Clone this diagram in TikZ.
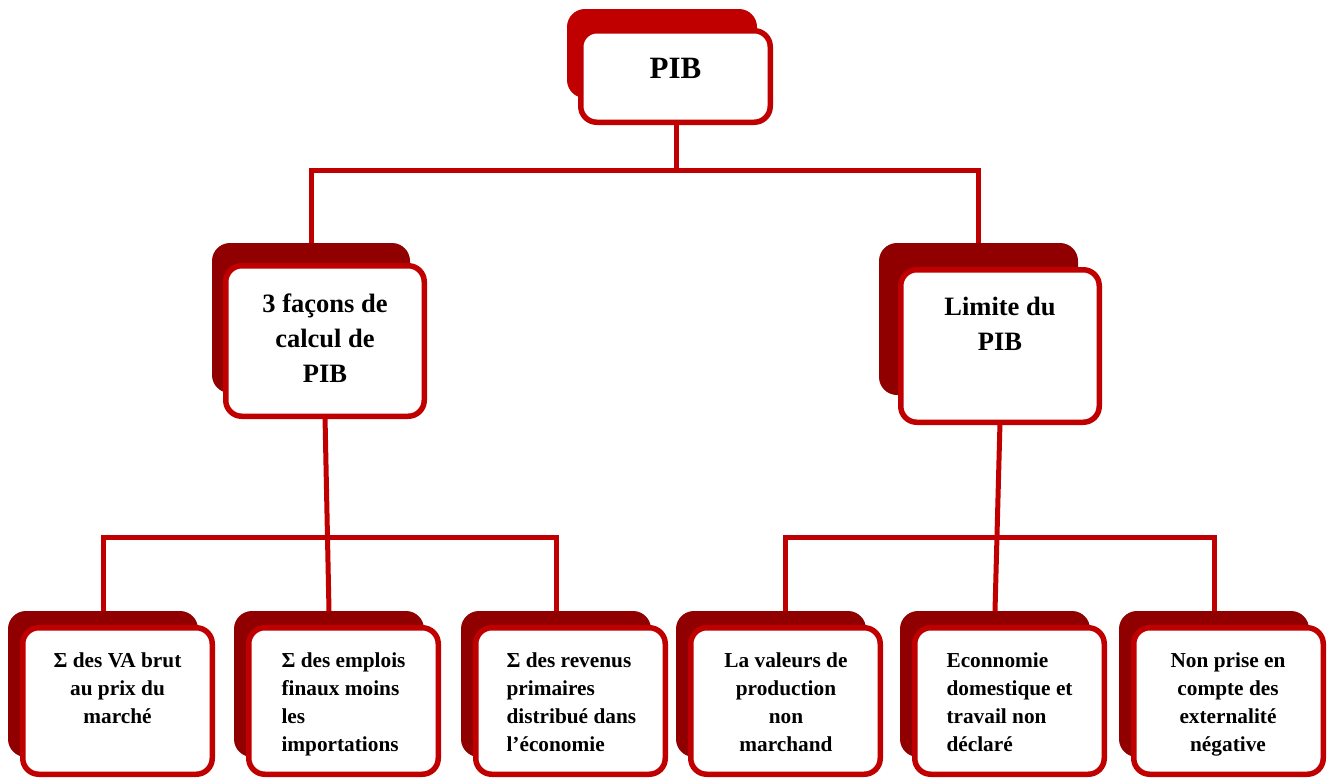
\documentclass[tikz,border=0pt]{standalone}
\usepackage{fontspec}
\setmainfont{Liberation Serif}
\usetikzlibrary{calc}
\definecolor{cardred}{RGB}{192,0,0}
\definecolor{cardshade}{RGB}{144,0,0}

\begin{document}
\begin{tikzpicture}[x=1pt,y=-1pt,
  front/.style={draw=cardred, line width=5.5pt, fill=white, rounded corners=16pt,
                inner sep=0pt, outer sep=0pt},
  shade/.style={fill=cardshade, rounded corners=18pt, inner sep=0pt, outer sep=0pt},
  link/.style={draw=cardred, line width=5pt},
  toptext/.style={font=\bfseries\fontsize{31}{36}\selectfont, anchor=base},
  midtext/.style={font=\bfseries\fontsize{26.5}{35}\selectfont, align=center, anchor=base},
  lowc/.style={font=\bfseries\fontsize{21.3}{28}\selectfont, align=center, anchor=base},
  lowl/.style={font=\bfseries\fontsize{21.3}{28}\selectfont, align=left, anchor=base west},
]
\useasboundingbox (0,0) rectangle (1331,779);

% top card
\node[shade, fill=cardred, minimum width=190pt, minimum height=89pt] (pibsh) at (662,53.5) {};
\node[front, minimum width=189.5pt, minimum height=91.5pt] (pib) at (675.5,76.5) {};
\node[toptext] (pibtx) at (675.5,78) {PIB};

% second level (text nodes are placed by the baseline of their last line)
\node[shade, minimum width=198pt, minimum height=150pt] (calcsh) at (311,318) {};
\node[front, minimum width=198.5pt, minimum height=150.5pt] (calc) at (325,341) {};
\node[midtext] (calctx) at (325,382) {3 façons de\\calcul de\\PIB};

\node[shade, minimum width=199pt, minimum height=152pt] (limsh) at (978.5,319) {};
\node[front, minimum width=198.5pt, minimum height=152.5pt] (lim) at (1000,346) {};
\node[midtext] (limtx) at (1000,350) {Limite du\\PIB};

% bottom level
\foreach \nm/\L in {b1/20, b2/246, b3/473, b4/688, b5/912, b6/1131}{
  \node[shade, minimum width=190pt, minimum height=146pt] (\nm sh) at (\L+83,684) {};
  \node[front, minimum width=189.5pt, minimum height=146.5pt] (\nm) at (\L+97.5,701) {};
}
\node[lowc] (b1tx) at (117.5,723) {Σ des VA brut\\au prix du\\marché};
\node[lowl] (b2tx) at (278,751) {Σ des emplois\\finaux moins\\les\\importations};
\node[lowl] (b3tx) at (503,751) {Σ des revenus\\primaires\\distribué dans\\l’économie};
\node[lowc] (b4tx) at (786,751) {La valeurs de\\production\\non\\marchand};
\node[lowl] (b5tx) at (943,751) {Econnomie\\domestique et\\travail non\\déclaré};
\node[lowc] (b6tx) at (1228,751) {Non prise en\\compte des\\externalité\\négative};

% connectors
\coordinate (j0) at (676,170);
\coordinate (j1) at (326,537);
\coordinate (j2) at (998,537);
\coordinate (b4top) at ($(b4sh.north)+(14,0)$);

\draw[link] (pib.south -| j0) -- (j0);
\draw[link] (calcsh.north) |- (j0) -| (limsh.north);

\draw[link] (calc.south) -- (b2sh.north);
\draw[link] (b1sh.north) |- (b3sh.north |- j1) -- (b3sh.north);

\draw[link] (lim.south) -- (b5sh.north);
\draw[link] (b4top) |- (b6sh.north |- j2) -- (b6sh.north);
\end{tikzpicture}
\end{document}
